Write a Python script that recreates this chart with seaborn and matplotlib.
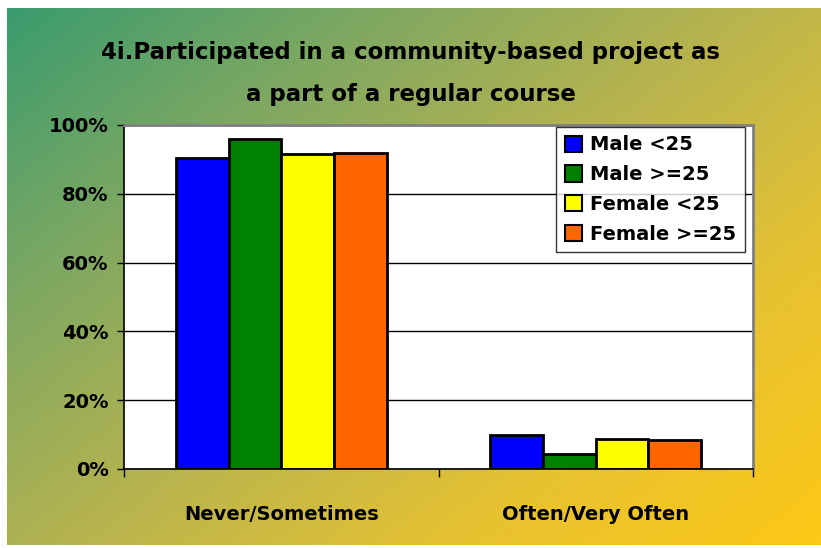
import numpy as np
import pandas as pd
import matplotlib.pyplot as plt
import seaborn as sns
from matplotlib.colors import LinearSegmentedColormap
from matplotlib.patches import Patch

# data
categories = ["Never/Sometimes", "Often/Very Often"]
groups = ["Male <25", "Male >=25", "Female <25", "Female >=25"]
male_u25 = [90.4, 9.9]
male_o25 = [95.9, 4.4]
female_u25 = [91.5, 8.7]
female_o25 = [91.8, 8.3]
colors = ["#0000FF", "#008000", "#FFFF00", "#FF6600"]

rows = []
for g, vals in zip(groups, [male_u25, male_o25, female_u25, female_o25]):
    for c, v in zip(categories, vals):
        rows.append({"cat": c, "grp": g, "val": v})
df = pd.DataFrame(rows)

sns.set_style("white")
plt.rcParams["font.family"] = ["DejaVu Sans"]
plt.rcParams["font.weight"] = "bold"
plt.rcParams["text.color"] = "black"
plt.rcParams["xtick.color"] = "black"
plt.rcParams["ytick.color"] = "black"

fig = plt.figure(figsize=(8.21, 5.48), dpi=100)
fig.patch.set_facecolor("white")

# gradient background (green top-left -> yellow/orange bottom-right)
bg = fig.add_axes([7 / 821, 3 / 548, 814 / 821, 537 / 548])
bg.set_axis_off()
nx, ny = 200, 140
xx, yy = np.meshgrid(np.linspace(0, 1, nx), np.linspace(0, 1, ny))
t = 0.55 * xx + 0.45 * yy
cmap = LinearSegmentedColormap.from_list(
    "bg", ["#3a9c6e", "#7fa862", "#b8b44e", "#e6c232", "#fdc816"])
bg.imshow(t, cmap=cmap, aspect="auto", extent=[0, 1, 0, 1], origin="upper")

ax = fig.add_axes([124 / 821, 1 - 469 / 548, 629 / 821, 344 / 548])
ax.set_facecolor("white")
sns.barplot(data=df, x="cat", y="val", hue="grp", palette=colors, saturation=1,
            width=0.67, edgecolor="black", linewidth=2, ax=ax, legend=False)

ax.set_ylim(0, 100)
ax.set_xlim(-0.5, 1.5)
ax.set_yticks([0, 20, 40, 60, 80, 100])
ax.set_yticklabels([f"{v}%" for v in [0, 20, 40, 60, 80, 100]],
                   fontsize=14, fontweight="bold")
ax.yaxis.grid(True, color="black", linewidth=1)
ax.set_axisbelow(True)
ax.tick_params(axis="y", direction="out", length=5, width=1, color="black", left=True, pad=6)

ax.set_xticks([0, 1])
ax.set_xticklabels(categories, fontsize=14, fontweight="bold")
ax.tick_params(axis="x", length=0, pad=26)
ax.set_xticks([-0.5, 0.5, 1.5], minor=True)
ax.tick_params(axis="x", which="minor", direction="out", length=6, width=1, color="black", bottom=True)

ax.set_xlabel("")
ax.set_ylabel("")
for side in ["left", "bottom"]:
    ax.spines[side].set_color("black")
    ax.spines[side].set_linewidth(1.2)
for side in ["top", "right"]:
    ax.spines[side].set_color("#808080")
    ax.spines[side].set_linewidth(2)

handles = [Patch(facecolor=c, edgecolor="black", linewidth=1.5, label=g)
           for c, g in zip(colors, groups)]
leg = ax.legend(handles=handles, loc="upper right", bbox_to_anchor=(0.987, 0.995),
                frameon=True, fancybox=False, prop={"weight": "bold", "size": 14},
                handlelength=0.9, handleheight=0.9, handletextpad=0.4,
                labelspacing=0.55, borderpad=0.45, borderaxespad=0.0)
leg.get_frame().set_edgecolor("black")
leg.get_frame().set_linewidth(1)
for txt in leg.get_texts():
    txt.set_color("black")

fig.text(0.5, 1 - 52 / 548, "4i.Participated in a community-based project as",
         ha="center", va="center", fontsize=16.5, fontweight="bold", color="black")
fig.text(0.5, 1 - 95 / 548, "a part of a regular course",
         ha="center", va="center", fontsize=16.5, fontweight="bold", color="black")

fig.savefig("out.png", dpi=100, facecolor=fig.get_facecolor())
